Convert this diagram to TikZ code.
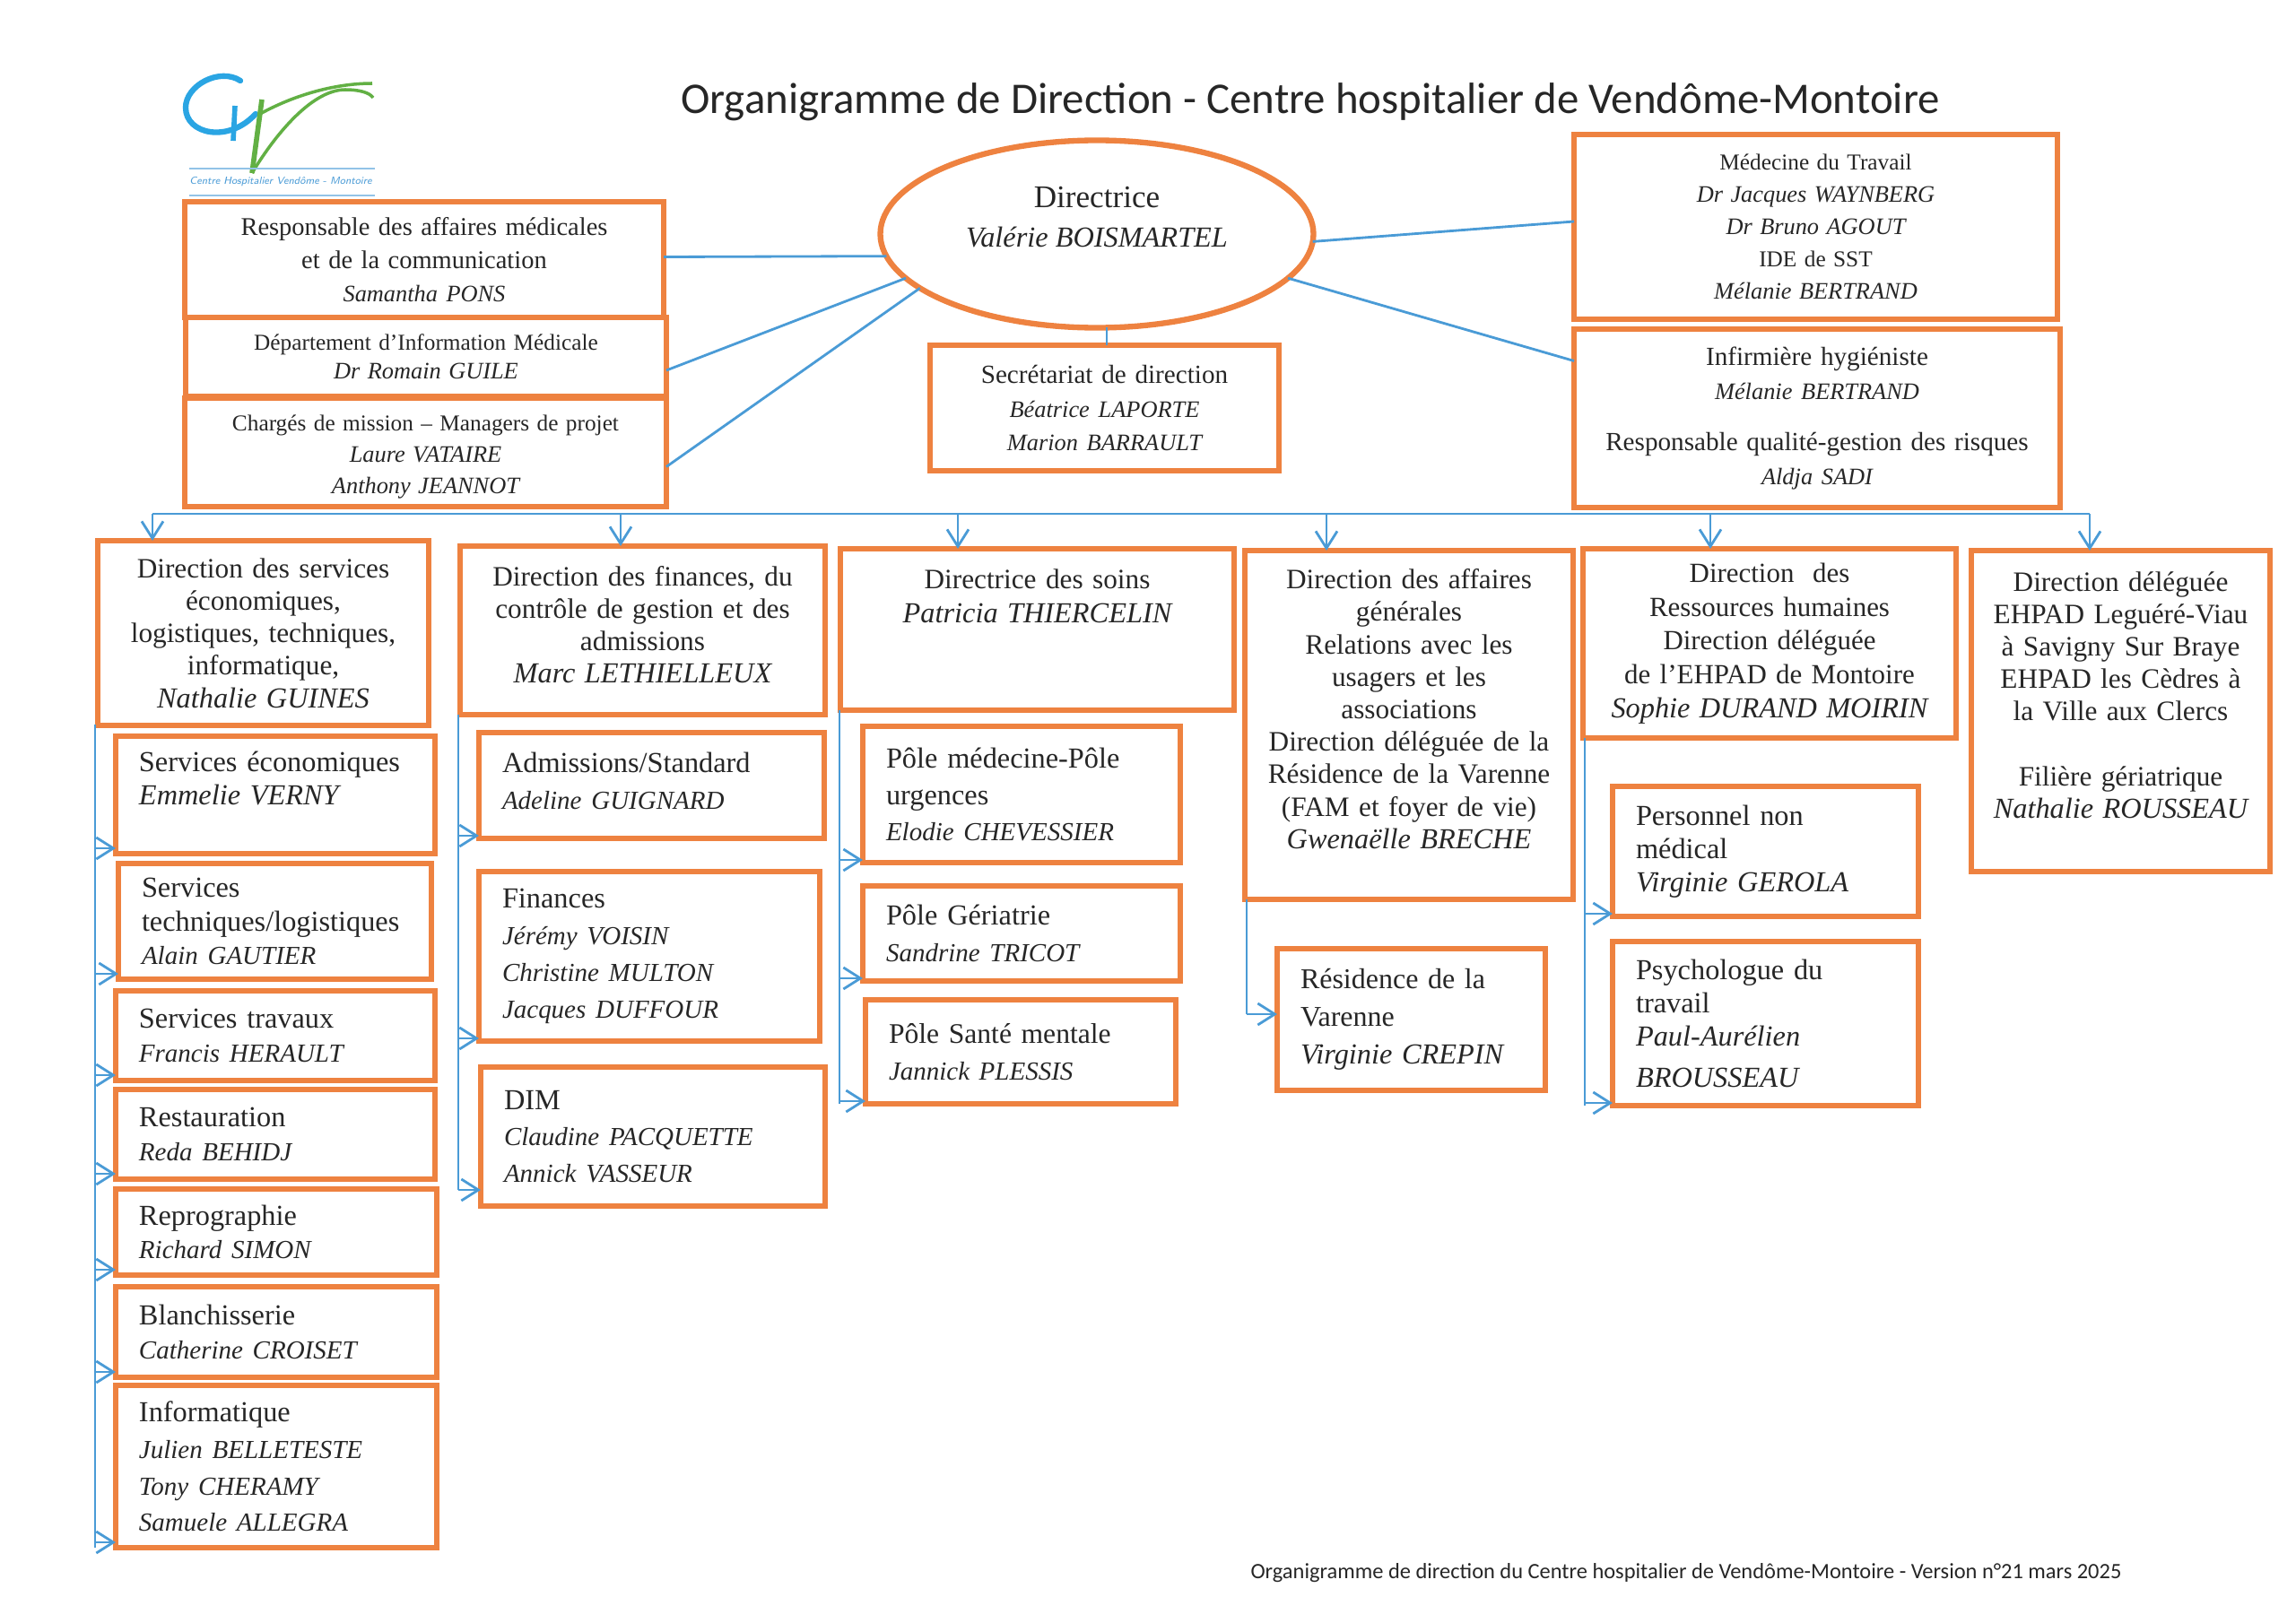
\documentclass[tikz,border=0pt]{standalone}
\usepackage{fontspec}
\setmainfont{Liberation Serif}
\newfontfamily\titlefont{Carlito}
\usetikzlibrary{arrows.meta, shapes.geometric}
\definecolor{boxorange}{HTML}{EE8240}
\definecolor{linkblue}{HTML}{4A9BD6}
\definecolor{inkgrey}{HTML}{262626}
\definecolor{logogreen}{HTML}{62B044}
\definecolor{logoblue}{HTML}{2AA5E3}
\newcommand{\who}[1]{{\itshape\fontsize{9.2}{10.2}\selectfont #1}}
\newcommand{\whosub}[1]{{\itshape\fontsize{8.25}{9.6}\selectfont #1}}
\newcommand{\whosm}[1]{{\itshape\fontsize{7.5}{9.6}\selectfont #1}}
\tikzset{
    box/.style={draw=boxorange, line width=1.6pt, anchor=north west, outer sep=0pt, inner ysep=0pt, text=inkgrey},
    boxc/.style 2 args={box, inner xsep=0.02cm, text width=#1cm-0.04cm, minimum height=#2cm, align=center, font=\fontsize{8.9}{10.3}\selectfont},
    boxl/.style 2 args={box, inner xsep=0.26cm, text width=#1cm-0.52cm, minimum height=#2cm, align=left, font=\fontsize{9.2}{10.6}\selectfont},
    fs/.style 2 args={font=\fontsize{#1}{#2}\selectfont},
    link/.style={draw=linkblue, line width=0.8pt},
    flow/.style={link, -{Straight Barb[length=0.19cm, width=0.24cm]}},
}
\begin{document}
\begin{tikzpicture}[x=1cm, y=-1cm]
    \useasboundingbox (0,0) rectangle (25.6,18.1);
    % Logo
    \draw[logoblue, line width=1.8pt, line cap=round] (2.68,0.90) .. controls (2.45,0.75) and (2.07,0.95) .. (2.07,1.20) .. controls (2.07,1.50) and (2.55,1.60) .. (2.85,1.27);
    \draw[logoblue, line width=1.6pt] (2.62,1.18) -- (2.60,1.57);
    \draw[logogreen, line width=1.6pt] (2.92,1.11) -- (2.81,1.93);
    \draw[logogreen, line width=1.0pt] (2.90,1.27) .. controls (3.30,1.05) and (3.75,0.93) .. (4.15,0.93);
    \draw[logogreen, line width=1.0pt] (2.81,1.93) .. controls (3.10,1.45) and (3.50,1.00) .. (3.85,1.00) .. controls (4.00,1.00) and (4.12,1.03) .. (4.16,1.09);
    \draw[linkblue!60, line width=0.5pt] (2.11,1.88) -- (4.18,1.88);
    \draw[linkblue!60, line width=0.5pt] (2.11,2.18) -- (4.18,2.18);
    \node[text=linkblue, font=\fontsize{3.3}{4}\selectfont\itshape\sffamily] (logotext) at (3.13,2.03) {Centre Hospitalier Vendôme - Montoire};
    % Title
    \node[text=inkgrey, font=\titlefont\fontsize{13.9}{16}\selectfont] (title) at (14.61,1.14) {Organigramme de Direction - Centre hospitalier de Vendôme-Montoire};
    \node[text=inkgrey, font=\titlefont\fontsize{6.95}{8}\selectfont] (footer) at (18.80,17.54) {Organigramme de direction du Centre hospitalier de Vendôme-Montoire - Version n°21 mars 2025};
    % Top nodes
    \node[draw=boxorange, line width=1.8pt, ellipse, minimum width=4.83cm, minimum height=2.09cm, inner sep=0pt, outer sep=0pt, align=center, text=inkgrey, font=\fontsize{10}{12.5}\selectfont] (direc) at (12.23,2.61) {Directrice\\\who{Valérie BOISMARTEL}\\[-1.5pt]~};
    \node[boxc={5.34}{1.29}, fs={8.1}{10.6}] (resp) at (2.06,2.25) {Responsable des affaires médicales\\et de la communication\\\whosm{Samantha PONS}};
    \node[boxc={5.36}{0.88}, fs={7.2}{9.1}] (dim) at (2.07,3.54) {Département d’Information Médicale\\\whosm{Dr Romain GUILE}};
    \node[boxc={5.37}{1.21}, fs={7.2}{10}] (charges) at (2.06,4.44) {~\\[-2.2pt]Chargés de mission – Managers de projet\\\whosm{Laure VATAIRE}\\\whosm{Anthony JEANNOT}};
    \node[boxc={3.89}{1.40}, fs={8.3}{10.7}] (secr) at (10.37,3.85) {Secrétariat de direction\\\whosm{Béatrice LAPORTE}\\\whosm{Marion BARRAULT}};
    \node[boxc={5.39}{2.06}, fs={7.2}{10.2}] (medec) at (17.55,1.50) {Médecine du Travail\\\whosm{Dr Jacques WAYNBERG}\\\whosm{Dr Bruno AGOUT}\\IDE de SST\\\whosm{Mélanie BERTRAND}};
    \node[boxc={5.42}{1.99}, fs={8.3}{10.7}] (hyg) at (17.55,3.67) {Infirmière hygiéniste\\\whosm{Mélanie BERTRAND}\\[5.5pt]Responsable qualité-gestion des risques\\\whosm{Aldja SADI}};
    % Directions
    \node[boxc={3.69}{2.06}] (dirserv) at (1.09,6.03) {Direction des services\\économiques,\\logistiques, techniques,\\informatique,\\\who{Nathalie GUINES}};
    \node[boxc={4.07}{1.88}] (dirfin) at (5.13,6.09) {Direction des finances, du\\contrôle de gestion et des\\admissions\\\who{Marc LETHIELLEUX}\\[-6.5pt]~};
    \node[boxc={4.39}{1.80}, fs={8.9}{10.6}] (dirsoin) at (9.37,6.12) {Directrice des soins\\\who{Patricia THIERCELIN}\\~\\~};
    \node[boxc={3.66}{3.89}] (diraff) at (13.88,6.14) {Direction des affaires\\générales\\Relations avec les\\usagers et les\\associations\\Direction déléguée de la\\Résidence de la Varenne\\(FAM et foyer de vie)\\\who{Gwenaëlle BRECHE}\\~};
    \node[boxc={4.16}{2.11}, fs={8.8}{10.7}] (dirrh) at (17.65,6.12) {Direction\ \ des\\Ressources humaines\\Direction déléguée\\de l’EHPAD de Montoire\\\who{Sophie DURAND MOIRIN}};
    \node[boxc={3.33}{3.58}] (dirdel) at (21.98,6.14) {Direction déléguée\\EHPAD Leguéré-Viau\\à Savigny Sur Braye\\EHPAD les Cèdres à\\la Ville aux Clercs\\~\\Filière gériatrique\\\who{Nathalie ROUSSEAU}\\~};
    % Services
    \node[boxl={3.56}{1.31}] (eco) at (1.29,8.21) {Services économiques\\\who{Emmelie VERNY}\\~};
    \node[boxl={3.49}{1.29}] (tech) at (1.32,9.63) {Services\\techniques/logistiques\\\whosub{Alain GAUTIER}};
    \node[boxl={3.56}{1.00}] (trav) at (1.29,11.05) {Services travaux\\\whosub{Francis HERAULT}};
    \node[boxl={3.56}{1.00}] (resto) at (1.29,12.15) {Restauration\\\whosub{Reda BEHIDJ}};
    \node[boxl={3.58}{0.96}] (repro) at (1.29,13.26) {Reprographie\\\whosub{Richard SIMON}};
    \node[boxl={3.58}{1.01}] (blanch) at (1.29,14.35) {Blanchisserie\\\whosub{Catherine CROISET}};
    \node[boxl={3.58}{1.81}, fs={9.2}{11.6}] (info) at (1.29,15.45) {Informatique\\\whosub{Julien BELLETESTE}\\\whosub{Tony CHERAMY}\\\whosub{Samuele ALLEGRA}};
    \node[boxl={3.85}{1.18}, fs={9.2}{11.6}] (adm) at (5.34,8.17) {Admissions/Standard\\\whosub{Adeline GUIGNARD}\\[-8.8pt]~};
    \node[boxl={3.80}{1.89}, fs={9.2}{11.6}] (fin) at (5.34,9.72) {Finances\\\whosub{Jérémy VOISIN}\\\whosub{Christine MULTON}\\\whosub{Jacques DUFFOUR}};
    \node[boxl={3.84}{1.55}, fs={9.2}{11.6}] (dimb) at (5.36,11.90) {DIM\\\whosub{Claudine PACQUETTE}\\\whosub{Annick VASSEUR}};
    \node[boxl={3.54}{1.52}, fs={9.2}{11.6}] (polemed) at (9.62,8.10) {Pôle médecine-Pôle\\urgences\\\whosub{Elodie CHEVESSIER}};
    \node[boxl={3.54}{1.06}, fs={9.2}{11.6}] (poleger) at (9.62,9.88) {Pôle Gériatrie\\\whosub{Sandrine TRICOT}};
    \node[boxl={3.46}{1.16}, fs={9.0}{11.6}] (polesan) at (9.65,11.15) {Pôle Santé mentale\\\whosub{Jannick PLESSIS}};
    \node[boxl={2.99}{1.58}, fs={9.1}{12}] (resid) at (14.24,10.58) {Résidence de la\\Varenne\\\who{Virginie CREPIN}};
    \node[boxl={3.41}{1.45}] (pers) at (17.98,8.77) {Personnel non\\médical\\\who{Virginie GEROLA}};
    \node[boxl={3.41}{1.83}] (psy) at (17.98,10.50) {Psychologue du\\travail\\\who{Paul-Aurélien}\\[2.5pt]\who{BROUSSEAU}};
    % Links from the head
    \draw[link] ([yshift=0.03cm]resp.east) -- (direc.186);
    \draw[link] ([yshift=-0.15cm]dim.east) -- (direc.193.5);
    \draw[link] ([yshift=-0.16cm]charges.east) -- (direc.197);
    \draw[link] (direc.-2.4) -- ([yshift=0.06cm]medec.west);
    \draw[link] (direc.-13.4) -- ([yshift=0.64cm]hyg.west);
    \draw[link] (direc.-84) -- (direc.-84 |- secr.north);
    % Bus
    \coordinate (busleft) at (1.70,5.73);
    \coordinate (busright) at (23.30,5.73);
    \draw[link] (busleft) -- (busright);
    \foreach \d/\x in {dirserv/1.70, dirfin/6.92, dirsoin/10.68, diraff/14.79, dirrh/19.07, dirdel/23.30}{
        \coordinate (bus\d) at (\x,5.73);
        \draw[flow] (bus\d) -- (bus\d |- \d.north);
    }
    \coordinate (busserv) at (1.06,8.08);
    \coordinate (busfin) at (5.11,7.97);
    \coordinate (bussoin) at (9.36,7.92);
    \coordinate (busaff) at (13.90,10.03);
    \coordinate (busrh) at (17.67,8.23);
    \draw[link] (busserv) -- (busserv |- info.south);
    \draw[link] (busfin) -- ([yshift=0.18cm]busfin |- dimb.south);
    \draw[link] (bussoin) -- (bussoin |- polesan.south);
    \draw[link] (busaff) -- ([yshift=0.85cm]busaff |- resid.south);
    \draw[link] (busrh) -- (busrh |- psy.south);
    \foreach \s in {eco, tech, trav, resto, repro, blanch, info}
        \draw[flow] ([yshift=0.06cm]\s.south west -| busserv) -- ([yshift=0.06cm]\s.south west);
    \foreach \s in {adm, fin}
        \draw[flow] ([yshift=0.03cm]\s.south west -| busfin) -- ([yshift=0.03cm]\s.south west);
    \draw[flow] ([yshift=0.18cm]dimb.south west -| busfin) -- ([yshift=0.18cm]dimb.south west);
    \foreach \s in {polemed, poleger, polesan}
        \draw[flow] ([yshift=0.03cm]\s.south west -| bussoin) -- ([yshift=0.03cm]\s.south west);
    \draw[flow] ([yshift=0.85cm]resid.south west -| busaff) -- ([yshift=0.85cm]resid.south west);
    \foreach \s in {pers, psy}
        \draw[flow] ([yshift=0.03cm]\s.south west -| busrh) -- ([yshift=0.03cm]\s.south west);
\end{tikzpicture}
\end{document}
